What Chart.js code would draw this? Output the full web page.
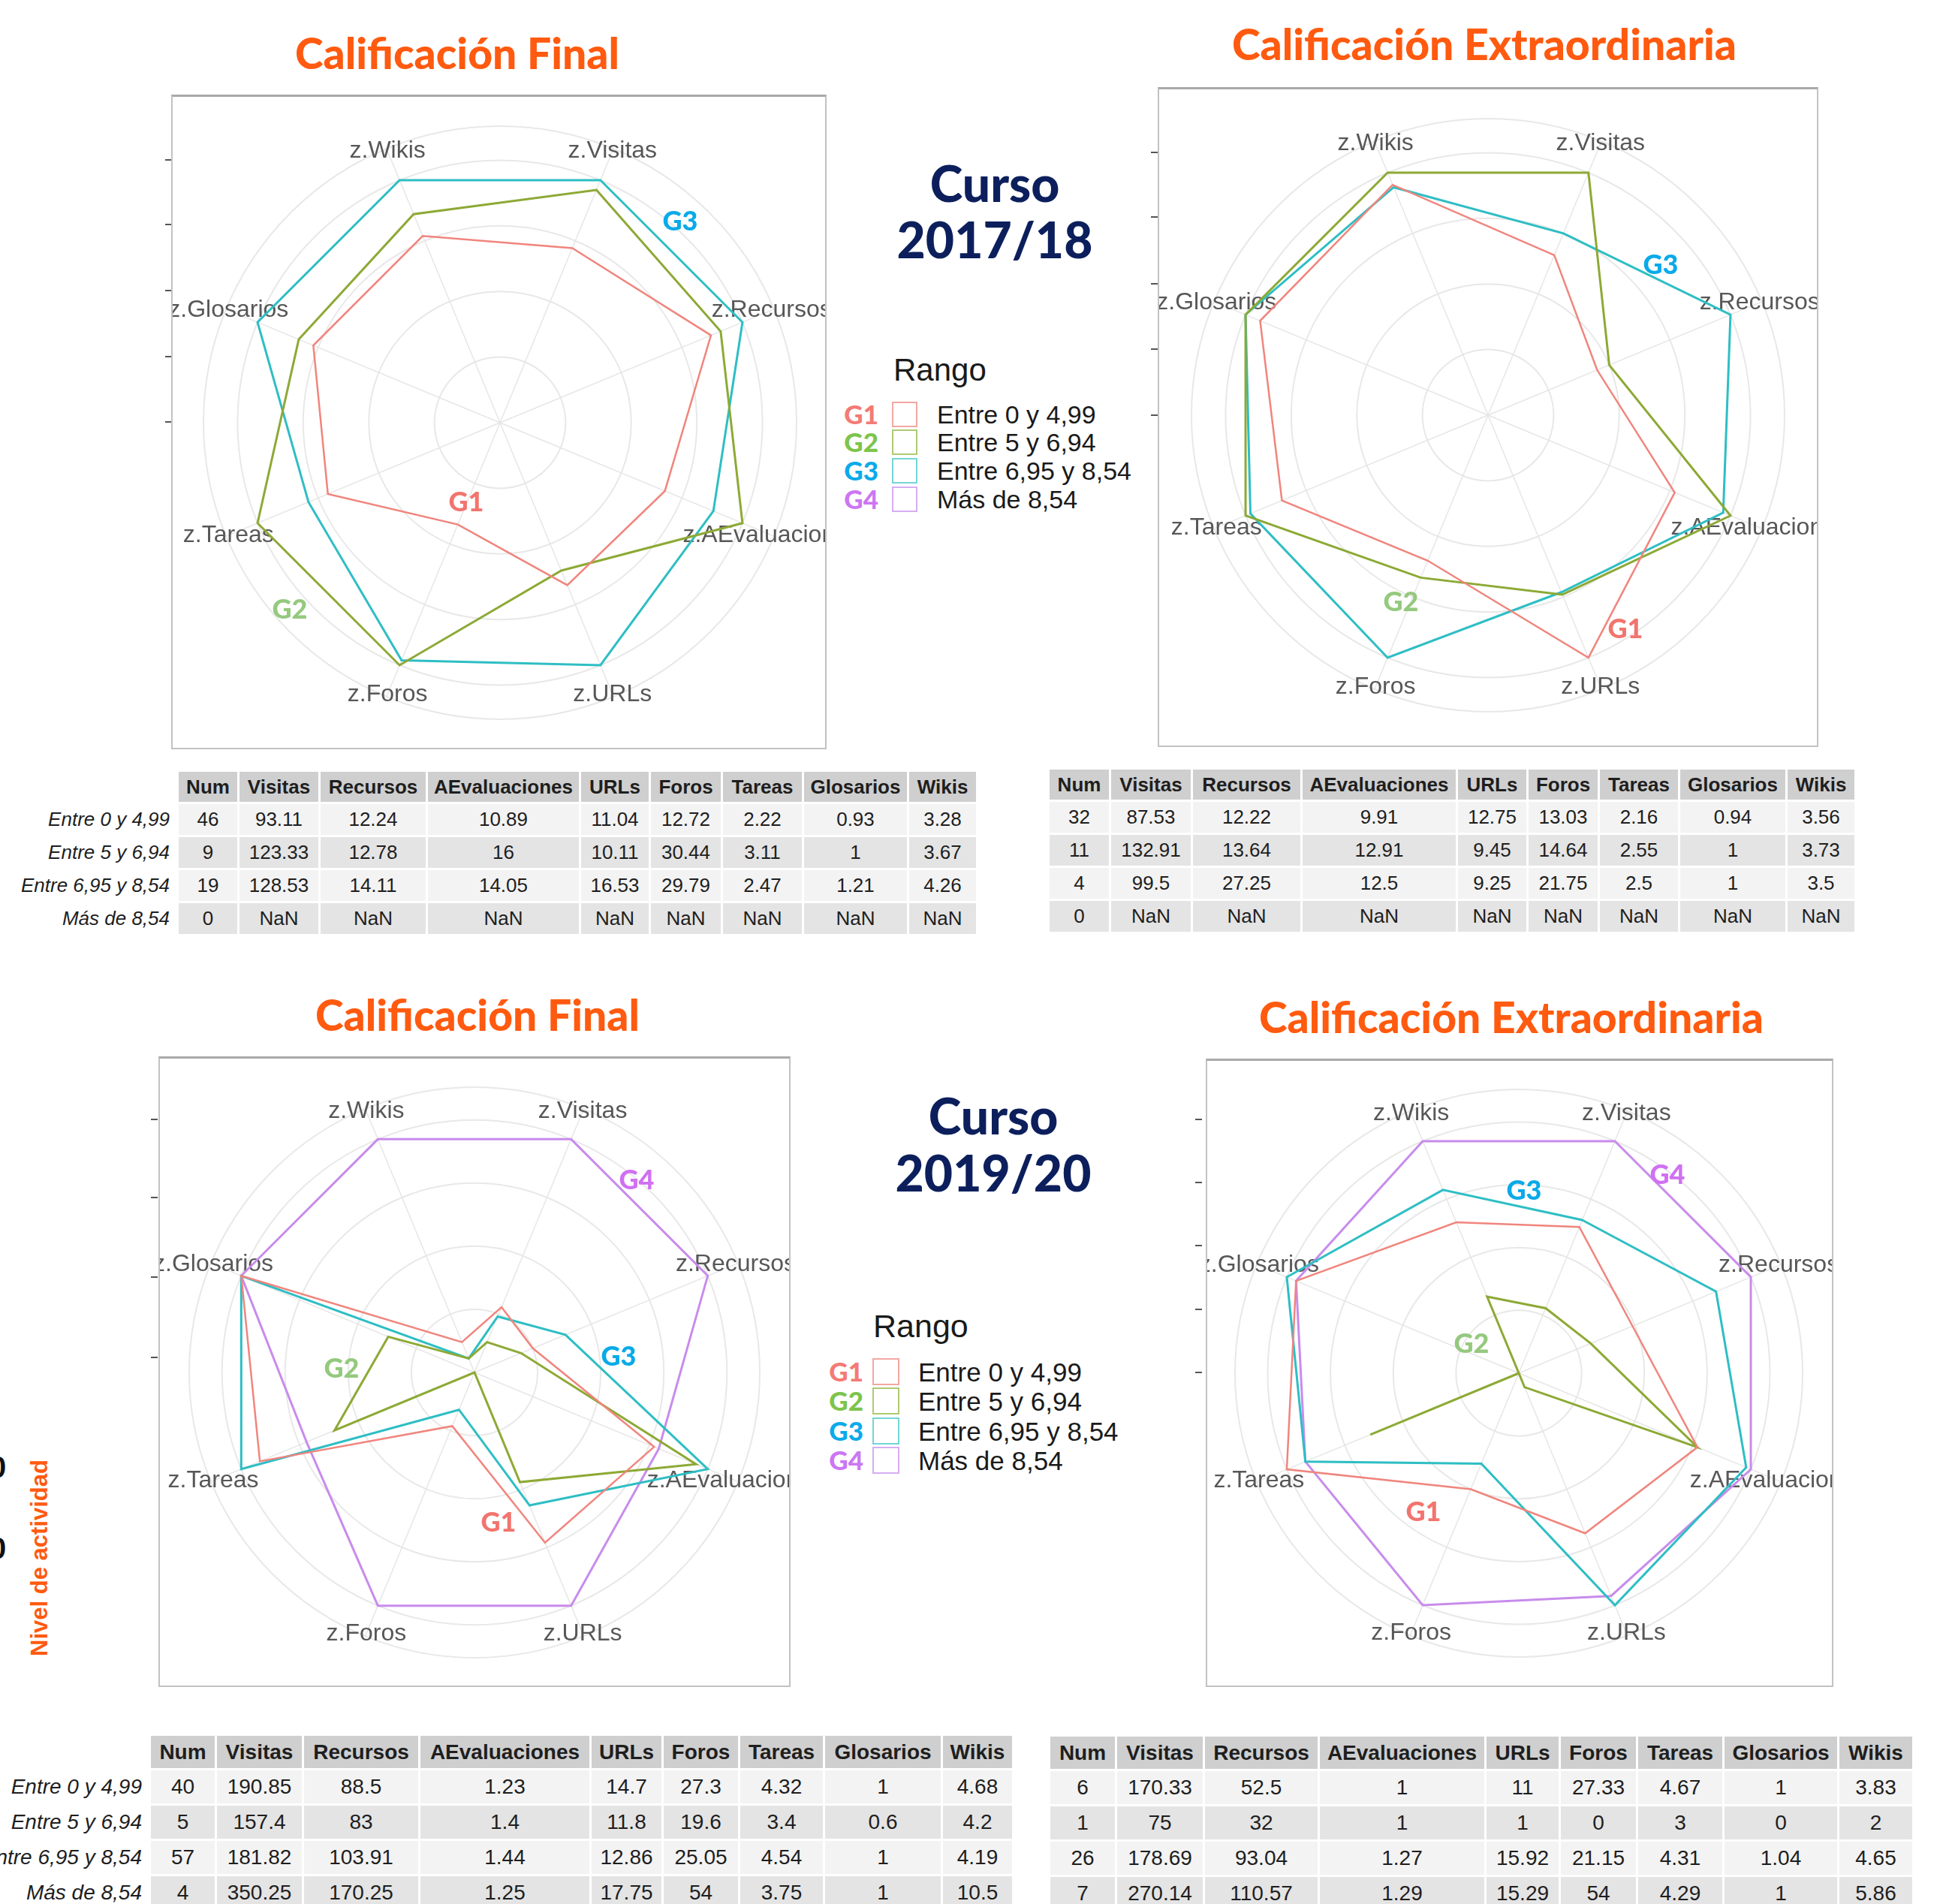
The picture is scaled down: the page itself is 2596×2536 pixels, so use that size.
<!DOCTYPE html>
<html lang="es">
<head>
<meta charset="utf-8">
<title>Nivel de actividad por rango de calificación</title>
<script src="https://cdn.jsdelivr.net/npm/chart.js@4.4.1/dist/chart.umd.min.js"></script>
<style>
  html, body { margin: 0; padding: 0; background: #fff; }
  #lienzo { position: relative; width: 2596px; height: 2536px; overflow: hidden; background: #fff;
            font-family: "Liberation Sans", Arial, sans-serif; }
  .centrado { position: absolute; transform: translate(-50%, -50%); white-space: nowrap; line-height: 1; }
  .titulo { font-family: Lato, sans-serif; font-weight: 900; color: #FF5A0F; font-size: 57px; }
  .curso { font-family: Lato, sans-serif; font-weight: 900; color: #0C1F5C; font-size: 66px; text-align: center; }
  .grupo { font-family: Lato, sans-serif; font-weight: 900; }
  .panel { position: absolute; overflow: hidden; background: #fff; }
  .panel canvas { position: absolute; left: 0; top: 0; }
  .marco { position: absolute; inset: 0; box-sizing: border-box; border: 2px solid #C2C2C2; border-top: 3px solid #A9A9A9; pointer-events: none; }
  .tabla { position: absolute; display: grid; }
  .tabla div { display: flex; align-items: center; justify-content: center; color: #1E1E1E; }
  .tabla .cab { background: #CFCFCF; font-weight: bold; }
  .tabla .f0 { background: #F3F3F3; }
  .tabla .f1 { background: #E4E4E4; }
  .fila { position: absolute; font-style: italic; color: #1E1E1E; text-align: right; white-space: nowrap; }
  .leyenda { position: absolute; white-space: nowrap; line-height: 1; }
  .caja { position: absolute; box-sizing: border-box; background: #fff; border: 2px solid; }
  .marca { position: absolute; height: 2px; background: #555; }
</style>
</head>
<body>
<div id="lienzo"></div>
<script>
// ejes del radar, en el orden en que aparecen (z.Visitas arriba a la derecha, sentido horario)
const ejes = ['z.Visitas', 'z.Recursos', 'z.AEvaluaciones', 'z.URLs', 'z.Foros', 'z.Tareas', 'z.Glosarios', 'z.Wikis'];
const grupos = ['G1', 'G2', 'G3', 'G4'];
const rangos = ['Entre 0 y 4,99', 'Entre 5 y 6,94', 'Entre 6,95 y 8,54', 'Más de 8,54'];
const columnas = ['Num', 'Visitas', 'Recursos', 'AEvaluaciones', 'URLs', 'Foros', 'Tareas', 'Glosarios', 'Wikis'];

// radio de cada vertice (1 = anillo exterior de la rejilla)
const final1718G1 = [0.72, 0.87, 0.68, 0.67, 0.42, 0.71, 0.77, 0.77];
const final1718G2 = [0.96, 0.91, 1.00, 0.61, 1.00, 1.00, 0.83, 0.86];
const final1718G3 = [1.00, 1.00, 0.88, 1.00, 0.98, 0.79, 1.00, 1.00];

const extra1718G1 = [0.66, 0.45, 0.77, 1.00, 0.60, 0.85, 0.94, 0.95];
const extra1718G2 = [1.00, 0.50, 1.00, 0.74, 0.67, 1.00, 1.00, 1.00];
const extra1718G3 = [0.75, 1.00, 0.97, 0.73, 1.00, 0.98, 1.00, 0.94];

const final1920G1 = [0.28, 0.25, 0.77, 0.73, 0.23, 0.92, 1.00, 0.13];
const final1920G2 = [0.13, 0.20, 0.95, 0.47, 0.00, 0.60, 0.37, 0.06];
const final1920G3 = [0.24, 0.39, 1.00, 0.57, 0.16, 1.00, 1.00, 0.06];
const final1920G4 = [1.00, 1.00, 0.79, 1.00, 1.00, 0.72, 1.00, 1.00];

const extra1920G1 = [0.63, 0.49, 0.77, 0.69, 0.50, 1.00, 0.96, 0.65];
const extra1920G2 = [0.28, 0.31, 0.77, 0.06, 0.00, 0.64, 0.00, 0.33];
const extra1920G3 = [0.66, 0.85, 0.98, 1.00, 0.39, 0.92, 1.00, 0.79];
const extra1920G4 = [1.00, 1.00, 1.00, 0.96, 1.00, 0.92, 0.96, 1.00];

// anillos de la rejilla y borde exterior
const anillos = [0.25, 0.5, 0.75, 1];
const radioMax = 1.13;
const radioEtiqueta = 1.12;

// tablas de medias por rango
const tablaFinal1718 = [
  [46, 93.11, 12.24, 10.89, 11.04, 12.72, 2.22, 0.93, 3.28],
  [9, 123.33, 12.78, 16, 10.11, 30.44, 3.11, 1, 3.67],
  [19, 128.53, 14.11, 14.05, 16.53, 29.79, 2.47, 1.21, 4.26],
  [0, NaN, NaN, NaN, NaN, NaN, NaN, NaN, NaN]
];
const tablaExtra1718 = [
  [32, 87.53, 12.22, 9.91, 12.75, 13.03, 2.16, 0.94, 3.56],
  [11, 132.91, 13.64, 12.91, 9.45, 14.64, 2.55, 1, 3.73],
  [4, 99.5, 27.25, 12.5, 9.25, 21.75, 2.5, 1, 3.5],
  [0, NaN, NaN, NaN, NaN, NaN, NaN, NaN, NaN]
];
const tablaFinal1920 = [
  [40, 190.85, 88.5, 1.23, 14.7, 27.3, 4.32, 1, 4.68],
  [5, 157.4, 83, 1.4, 11.8, 19.6, 3.4, 0.6, 4.2],
  [57, 181.82, 103.91, 1.44, 12.86, 25.05, 4.54, 1, 4.19],
  [4, 350.25, 170.25, 1.25, 17.75, 54, 3.75, 1, 10.5]
];
const tablaExtra1920 = [
  [6, 170.33, 52.5, 1, 11, 27.33, 4.67, 1, 3.83],
  [1, 75, 32, 1, 1, 0, 3, 0, 2],
  [26, 178.69, 93.04, 1.27, 15.92, 21.15, 4.31, 1.04, 4.65],
  [7, 270.14, 110.57, 1.29, 15.29, 54, 4.29, 1, 5.86]
];

const colorLinea = ['#F0857D', '#8DA935', '#2EBEC4', '#C88CEC'];
const colorCaja = ['#F2A8A2', '#AECB72', '#74D5D8', '#D6AEF2'];
const colorGrupoLeyenda = ['#F37B75', '#7DC44B', '#0BAAEA', '#CC76F4'];
const colorGrupoGrafico = ['#F2746E', '#95C97E', '#0AAAE8', '#D070F2'];

const lienzo = document.getElementById('lienzo');

function agregar(clase, estilo, texto) {
  const d = document.createElement('div');
  d.className = clase;
  Object.assign(d.style, estilo);
  if (texto !== undefined) d.textContent = texto;
  lienzo.appendChild(d);
  return d;
}

// etiquetas de los ejes, centradas sobre el borde exterior
const etiquetasEjes = {
  id: 'etiquetasEjes',
  beforeDatasetsDraw(chart) {
    const r = chart.scales.r;
    const ctx = chart.ctx;
    ctx.save();
    ctx.font = '32px "Liberation Sans", Arial, sans-serif';
    ctx.fillStyle = '#575757';
    ctx.textAlign = 'center';
    ctx.textBaseline = 'middle';
    chart.data.labels.forEach((txt, i) => {
      const p = r.getPointPositionForValue(i, radioEtiqueta);
      ctx.fillText(txt, p.x, p.y);
    });
    ctx.restore();
  }
};

function radar(caja, centro, r1, series) {
  const [bx, by, bw, bh] = caja;
  const panel = agregar('panel', { left: bx + 'px', top: by + 'px', width: bw + 'px', height: bh + 'px' });
  const canvas = document.createElement('canvas');
  canvas.width = bw;
  canvas.height = bh;
  panel.appendChild(canvas);
  const m = document.createElement('div');
  m.className = 'marco';
  panel.appendChild(m);

  const ext = r1 * radioMax;
  const cx = centro[0] - bx, cy = centro[1] - by;
  new Chart(canvas, {
    type: 'radar',
    data: {
      labels: ejes,
      datasets: series.map((s, i) => ({
        label: grupos[i],
        data: s,
        borderColor: colorLinea[i],
        borderWidth: i === 0 ? 2.5 : 3,
        fill: false,
        pointRadius: 0,
        tension: 0
      }))
    },
    options: {
      responsive: false,
      animation: false,
      layout: { padding: { left: cx - ext, top: cy - ext, right: bw - cx - ext, bottom: bh - cy - ext } },
      plugins: { legend: { display: false }, tooltip: { enabled: false } },
      scales: {
        r: {
          min: 0,
          max: radioMax,
          startAngle: 22.5,
          ticks: { display: false },
          afterBuildTicks: (sc) => { sc.ticks = [0].concat(anillos, [radioMax]).map(v => ({ value: v })); },
          grid: { circular: true, color: '#E8E8E8', lineWidth: 2 },
          angleLines: { color: '#E6E6E6', lineWidth: 1.5 },
          pointLabels: { display: false }
        }
      }
    },
    plugins: [etiquetasEjes]
  });
}

function tabla(filas, x, y, anchos, altoCab, altoFila, tam, xEtiqueta) {
  const t = agregar('tabla', {
    left: x + 'px', top: y + 'px', fontSize: tam + 'px',
    gridTemplateColumns: anchos.map(a => a + 'px').join(' '),
    gridTemplateRows: altoCab + 'px ' + filas.map(() => altoFila + 'px').join(' '),
    columnGap: '3px', rowGap: '3px'
  });
  columnas.forEach(c => {
    const d = document.createElement('div');
    d.className = 'cab';
    d.textContent = c;
    t.appendChild(d);
  });
  filas.forEach((fila, k) => {
    fila.forEach(v => {
      const d = document.createElement('div');
      d.className = 'f' + (k % 2);
      d.textContent = String(v);
      t.appendChild(d);
    });
    if (xEtiqueta !== null) {
      agregar('fila', {
        right: (2596 - xEtiqueta) + 'px', top: (y + altoCab + 3 + k * (altoFila + 3)) + 'px',
        height: altoFila + 'px', lineHeight: altoFila + 'px', fontSize: tam + 'px'
      }, rangos[k]);
    }
  });
}

function leyenda(xR, yR, filasY, xG, xCaja, lado, xTexto, tamTexto, tamR) {
  agregar('leyenda', { left: xR + 'px', top: (yR - tamR / 2) + 'px', fontSize: tamR + 'px', color: '#1A1A1A' }, 'Rango');
  filasY.forEach((yc, i) => {
    agregar('leyenda grupo', { right: (2596 - xG) + 'px', top: (yc - 18) + 'px', fontSize: '35px', color: colorGrupoLeyenda[i] }, grupos[i]);
    agregar('caja', { left: xCaja + 'px', top: (yc - lado / 2) + 'px', width: lado + 'px', height: lado + 'px', borderColor: colorCaja[i] });
    agregar('leyenda', { left: xTexto + 'px', top: (yc - tamTexto / 2) + 'px', fontSize: tamTexto + 'px', color: '#1A1A1A' }, rangos[i]);
  });
}

function texto(clase, x, y, t, extra) {
  return agregar('centrado ' + clase, Object.assign({ left: x + 'px', top: y + 'px' }, extra || {}), t);
}

// marcas sueltas a la izquierda de cada marco
[[220, [213, 299, 387, 475, 562]], [1533, [203, 289, 378, 465, 553]],
 [201, [1491, 1595, 1701, 1808]], [1592, [1491, 1575, 1659, 1744, 1828]]].forEach(([x, ys]) => {
  ys.forEach(y => agregar('marca', { left: x + 'px', top: (y - 1) + 'px', width: '9px' }));
});

// titulos
texto('titulo', 609, 70, 'Calificación Final');
texto('titulo', 1977, 58, 'Calificación Extraordinaria');
texto('titulo', 636, 1351, 'Calificación Final');
texto('titulo', 2013, 1354, 'Calificación Extraordinaria');
texto('curso', 1325, 244, 'Curso');
texto('curso', 1325, 319, '2017/18');
texto('curso', 1323, 1486, 'Curso');
texto('curso', 1323, 1562, '2019/20');

// radares
radar([228, 126, 873, 872], [666, 563], 350, [final1718G1, final1718G2, final1718G3]);
radar([1542, 116, 880, 879], [1982, 553], 350, [extra1718G1, extra1718G2, extra1718G3]);
radar([211, 1407, 842, 840], [632, 1828], 337, [final1920G1, final1920G2, final1920G3, final1920G4]);
radar([1606, 1410, 836, 837], [2023, 1829], 335, [extra1920G1, extra1920G2, extra1920G3, extra1920G4]);

// etiquetas de grupo dentro de los radares
[[906, 293, 2], [621, 667, 0], [386, 810, 1],
 [2212, 351, 2], [1866, 800, 1], [2165, 836, 0],
 [848, 1570, 3], [824, 1805, 2], [455, 1821, 1], [664, 2026, 0],
 [2221, 1563, 3], [2030, 1584, 2], [1960, 1788, 1], [1896, 2012, 0]].forEach(([x, y, g]) => {
  texto('grupo', x, y, grupos[g], { fontSize: '36px', color: colorGrupoGrafico[g] });
});

// leyendas
leyenda(1190, 493, [552, 589, 627, 665], 1170, 1188, 34, 1248, 34, 42);
leyenda(1163, 1766, [1827, 1866, 1906, 1945], 1150, 1162, 36, 1223, 35, 43);

// tablas
tabla(tablaFinal1718, 238, 1028, [78, 105, 140, 201, 90, 93, 105, 137, 89], 40, 41, 26, 226);
tabla(tablaExtra1718, 1398, 1025, [79, 106, 143, 204, 91, 92, 104, 140, 89], 40, 41, 26, null);
tabla(tablaFinal1920, 201, 2312, [85, 113, 152, 225, 93, 99, 110, 154, 92], 43, 44, 28, 189);
tabla(tablaExtra1920, 1399, 2313, [86, 114, 150, 219, 96, 100, 112, 150, 97], 43, 44, 28, null);

// rotulo vertical y restos de cifras en el borde izquierdo
texto('', 52, 2075, 'Nivel de actividad', {
  transform: 'translate(-50%, -50%) rotate(-90deg)', fontSize: '31px', fontWeight: 'bold', color: '#FF5A0F'
});
agregar('leyenda', { left: '-14px', top: '1934px', fontSize: '40px', fontWeight: 'bold', color: '#111' }, '0');
agregar('leyenda', { left: '-14px', top: '2042px', fontSize: '40px', fontWeight: 'bold', color: '#111' }, '0');
</script>
</body>
</html>
